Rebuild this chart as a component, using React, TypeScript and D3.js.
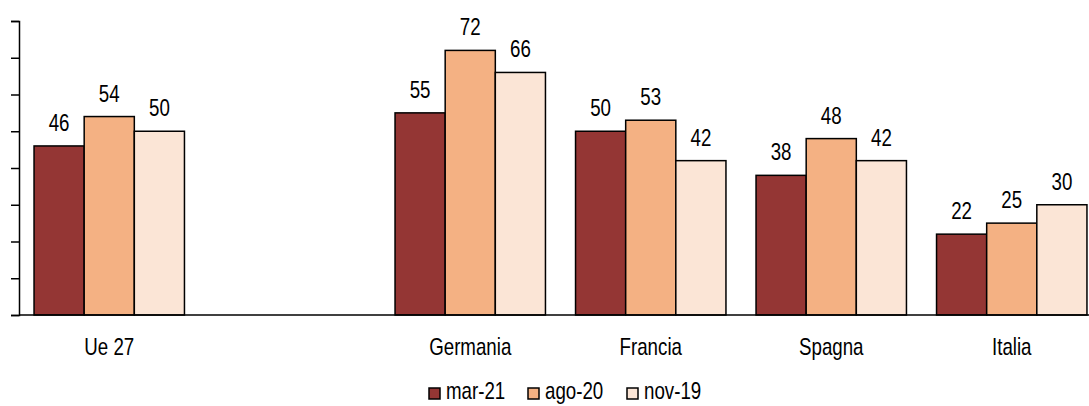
import * as d3 from 'd3';
import { useEffect, useRef } from 'react';

const categories = ['Ue 27', '', 'Germania', 'Francia', 'Spagna', 'Italia'];
const seriesNames = ['mar-21', 'ago-20', 'nov-19'];
const mar21 = [46, null, 55, 50, 38, 22];
const ago20 = [54, null, 72, 53, 48, 25];
const nov19 = [50, null, 66, 42, 42, 30];
const colors = ['#943634', '#F4B183', '#FBE5D6'];
const yTicks = [0, 10, 20, 30, 40, 50, 60, 70, 80];

const width = 1089;
const height = 406;
const margin = { top: 21, left: 19, right: -13, bottom: 91 };
const font = '"Liberation Sans", Arial, sans-serif';
// the original uses a narrow face; squeeze the regular one horizontally
const squeeze = 0.78;

export default function App() {
  const ref = useRef<SVGSVGElement>(null);

  useEffect(() => {
    const svg = d3.select(ref.current);
    svg.selectAll('*').remove();

    const x = d3
      .scaleBand()
      .domain(categories.map((c, i) => String(i)))
      .range([margin.left, width - margin.right]);
    const inner = d3
      .scaleBand()
      .domain(seriesNames)
      .range([0, x.bandwidth()])
      .paddingOuter(0.3)
      .paddingInner(0);
    const y = d3
      .scaleLinear()
      .domain([0, 80])
      .range([height - margin.bottom, margin.top]);

    const label = (g, tx, ty, txt, anchor = 'middle') =>
      g
        .append('text')
        .attr('transform', `translate(${tx},${ty}) scale(${squeeze},1)`)
        .attr('text-anchor', anchor)
        .attr('font-family', font)
        .attr('font-size', 24)
        .attr('fill', '#000')
        .text(txt);

    const series = [mar21, ago20, nov19];

    // bars
    series.forEach((vals, s) => {
      const g = svg.append('g');
      vals.forEach((v, i) => {
        if (v == null) return;
        const bx = (x(String(i)) as number) + (inner(seriesNames[s]) as number);
        g.append('rect')
          .attr('x', bx)
          .attr('y', y(v))
          .attr('width', inner.bandwidth())
          .attr('height', y(0) - y(v))
          .attr('fill', colors[s])
          .attr('stroke', '#000')
          .attr('stroke-width', 1.5);
        label(g, bx + inner.bandwidth() / 2, y(v) - 15, v);
      });
    });

    // y axis
    const yAxis = d3
      .axisLeft(y)
      .tickValues(yTicks)
      .tickSize(8)
      .tickFormat(() => '');
    svg
      .append('g')
      .attr('transform', `translate(${margin.left},0)`)
      .call(yAxis)
      .call((g) => g.selectAll('line, path').attr('stroke', '#000').attr('stroke-width', 1.5));

    // x axis line
    svg
      .append('line')
      .attr('x1', margin.left)
      .attr('x2', width)
      .attr('y1', y(0))
      .attr('y2', y(0))
      .attr('stroke', '#000')
      .attr('stroke-width', 1.5);

    // category labels
    const cats = svg.append('g');
    categories.forEach((c, i) => {
      if (!c) return;
      label(cats, (x(String(i)) as number) + x.bandwidth() / 2, 355, c);
    });

    // legend
    const legendX = [429, 528, 627];
    const legend = svg.append('g');
    seriesNames.forEach((name, s) => {
      legend
        .append('rect')
        .attr('x', legendX[s])
        .attr('y', 388)
        .attr('width', 11)
        .attr('height', 11)
        .attr('fill', colors[s])
        .attr('stroke', '#000')
        .attr('stroke-width', 1.5);
      label(legend, legendX[s] + 17, 399, name, 'start');
    });
  }, []);

  return (
    <svg
      ref={ref}
      width={width}
      height={height}
      style={{ position: 'absolute', left: 0, top: 0, background: '#fff', overflow: 'hidden' }}
    />
  );
}
